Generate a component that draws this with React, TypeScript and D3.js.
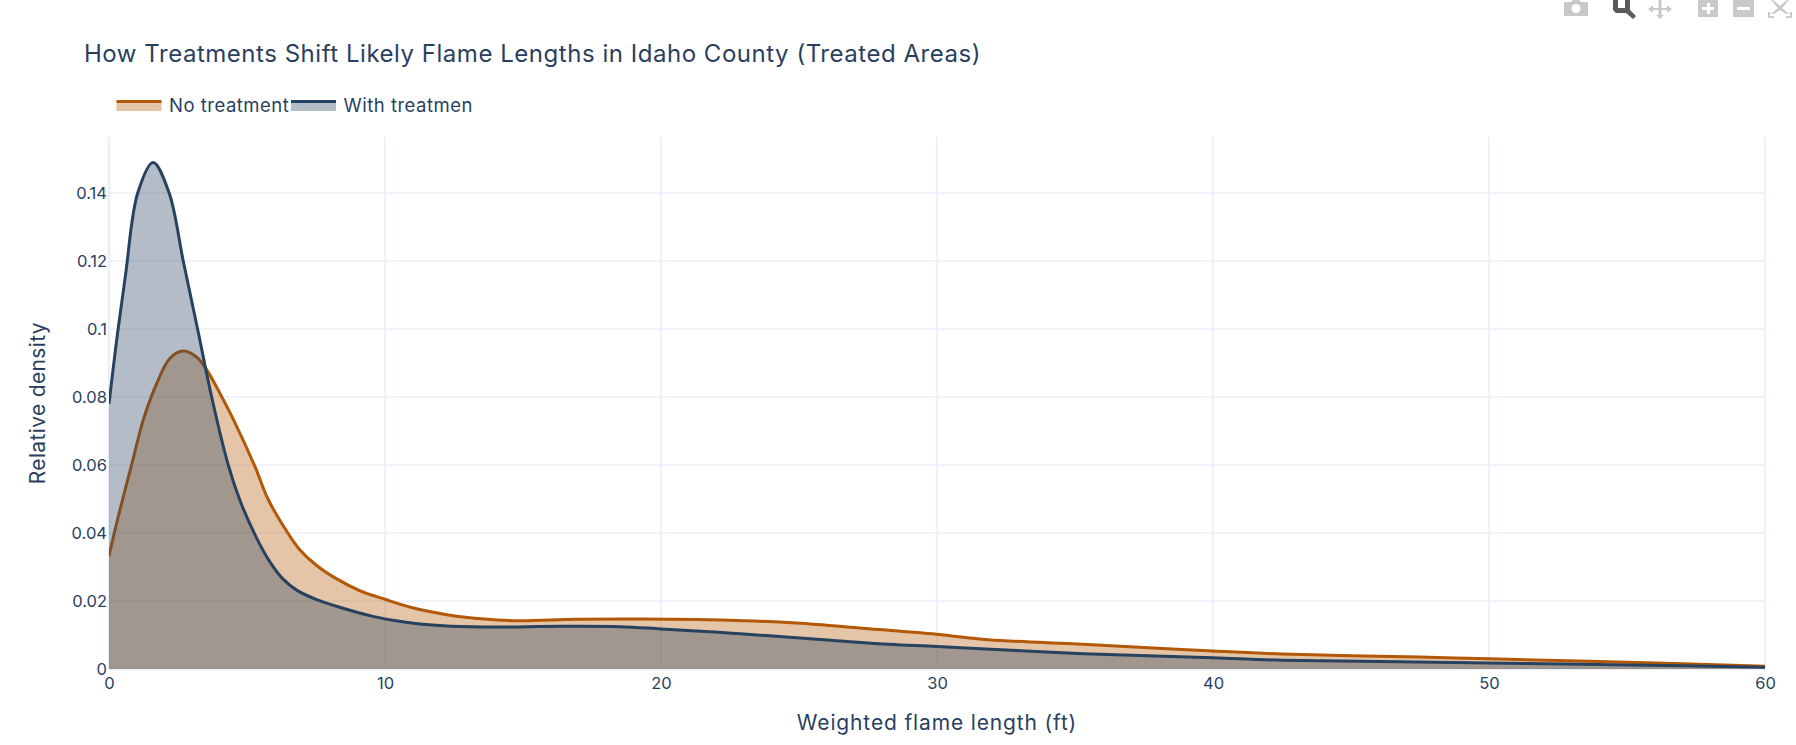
import {useEffect, useRef} from 'react';
import * as d3 from 'd3';

const noTreatmentX = [0, 0.25, 0.52, 0.88, 1.24, 1.73, 2.21, 2.69, 3.18, 3.54, 3.96, 4.5, 5.29, 5.76, 6.44, 6.92, 7.5, 8.25, 9.1, 10, 11, 12.3, 13.6, 14.85, 16.9, 19.3, 23, 24.9, 27.3, 30, 31.85, 35.3, 38, 40, 42.5, 47.5, 50, 55, 60];
const noTreatmentY = [0.0332, 0.042, 0.0507, 0.062, 0.0732, 0.084, 0.0914, 0.0935, 0.0917, 0.088, 0.082, 0.0735, 0.0595, 0.05, 0.0405, 0.035, 0.0306, 0.0265, 0.023, 0.0205, 0.018, 0.0159, 0.0147, 0.0142, 0.0146, 0.0147, 0.0142, 0.0135, 0.012, 0.0102, 0.0086, 0.0073, 0.0061, 0.0053, 0.0044, 0.0035, 0.003, 0.002, 0.0008];

const withTreatmentX = [0, 0.19, 0.33, 0.6, 1.04, 1.6, 2.18, 2.69, 3.21, 3.72, 4.32, 4.75, 5.35, 5.83, 6.3, 6.8, 7.5, 8.3, 9.6, 10.7, 12.1, 13.6, 16.4, 18.5, 20, 23, 25.9, 27.6, 30, 32.7, 35.3, 40, 42.5, 50, 55, 60];
const withTreatmentY = [0.078, 0.091, 0.1, 0.116, 0.14, 0.149, 0.14, 0.12, 0.1, 0.08, 0.06, 0.0495, 0.0385, 0.0315, 0.0265, 0.0232, 0.0205, 0.0183, 0.0154, 0.0138, 0.0127, 0.01235, 0.01255, 0.01245, 0.0118, 0.0103, 0.0086, 0.0076, 0.0066, 0.0055, 0.0045, 0.0033, 0.0026, 0.0018, 0.0012, 0.0005];

const xTicks = [0, 10, 20, 30, 40, 50, 60];
const yTicks = [0, 0.02, 0.04, 0.06, 0.08, 0.1, 0.12, 0.14];

const seriesNames = ['No treatment', 'With treatmen'];
const seriesColors = ['#b35806', '#27425f'];

const width = 1796;
const height = 745;
const margin = {left: 109, right: 31, top: 137, bottom: 76};
const textColor = '#2a3f5f';
const gridColor = '#ebf0f8';
const fontFamily = 'Inter, "Noto Sans", sans-serif';

const App = () => {
  const svgRef = useRef<SVGSVGElement | null>(null);

  useEffect(() => {
    const svg = d3.select(svgRef.current!);
    svg.selectAll('*').remove();
    svg.style('font-family', fontFamily);

    const xScale = d3
      .scaleLinear()
      .domain([0, 60])
      .range([margin.left, width - margin.right]);
    const yScale = d3
      .scaleLinear()
      .domain([0, 0.15647])
      .range([height - margin.bottom, margin.top]);

    // Grid
    const grid = svg.append('g');
    grid
      .selectAll('line.v')
      .data(xTicks)
      .enter()
      .append('line')
      .attr('x1', (d) => xScale(d))
      .attr('x2', (d) => xScale(d))
      .attr('y1', margin.top)
      .attr('y2', height - margin.bottom)
      .attr('stroke', gridColor)
      .attr('stroke-width', (d) => (d === 0 ? 2.6 : 1.8));
    grid
      .selectAll('line.h')
      .data(yTicks)
      .enter()
      .append('line')
      .attr('x1', margin.left)
      .attr('x2', width - margin.right)
      .attr('y1', (d) => yScale(d))
      .attr('y2', (d) => yScale(d))
      .attr('stroke', gridColor)
      .attr('stroke-width', (d) => (d === 0 ? 2.6 : 1.5));

    svg
      .append('clipPath')
      .attr('id', 'plot-clip')
      .append('rect')
      .attr('x', margin.left)
      .attr('y', margin.top)
      .attr('width', width - margin.left - margin.right)
      .attr('height', height - margin.top - margin.bottom);

    const curve = d3.curveCatmullRom.alpha(0.5);
    const plot = svg.append('g').attr('clip-path', 'url(#plot-clip)');
    [
      [noTreatmentX, noTreatmentY],
      [withTreatmentX, withTreatmentY],
    ].forEach(([xs, ys], s) => {
      const points = xs.map((x, i) => [xScale(x), yScale(ys[i])]);
      plot
        .append('path')
        .attr(
          'd',
          d3
            .area<number[]>()
            .x((d) => d[0])
            .y0(yScale(0))
            .y1((d) => d[1])
            .curve(curve)(points),
        )
        .attr('fill', seriesColors[s])
        .attr('fill-opacity', 0.35);
      plot
        .append('path')
        .attr(
          'd',
          d3
            .line<number[]>()
            .x((d) => d[0])
            .y((d) => d[1])
            .curve(curve)(points),
        )
        .attr('fill', 'none')
        .attr('stroke', seriesColors[s])
        .attr('stroke-width', 3);
    });

    // Axes
    const xAxis = d3
      .axisBottom(xScale)
      .tickValues(xTicks)
      .tickSize(0)
      .tickPadding(8)
      .tickFormat((d) => String(d));
    const yAxis = d3
      .axisLeft(yScale)
      .tickValues(yTicks)
      .tickSize(0)
      .tickPadding(2)
      .tickFormat((d) => String(d));
    const gx = svg
      .append('g')
      .attr('transform', `translate(0,${height - margin.bottom})`)
      .call(xAxis);
    const gy = svg.append('g').attr('transform', `translate(${margin.left},0)`).call(yAxis);
    [gx, gy].forEach((g) => {
      g.select('.domain').remove();
      g.selectAll('text')
        .attr('fill', textColor)
        .style('font-family', fontFamily)
        .style('font-size', '16.5px');
    });

    // Titles
    svg
      .append('text')
      .attr('x', 84)
      .attr('y', 62)
      .attr('fill', textColor)
      .style('font-size', '24px')
      .style('letter-spacing', '0.53px')
      .text('How Treatments Shift Likely Flame Lengths in Idaho County (Treated Areas)');
    svg
      .append('text')
      .attr('x', xScale(30))
      .attr('y', 730)
      .attr('text-anchor', 'middle')
      .attr('fill', textColor)
      .style('font-size', '21px')
      .style('letter-spacing', '0.85px')
      .text('Weighted flame length (ft)');
    svg
      .append('text')
      .attr('transform', `translate(45,${yScale(0.0782)}) rotate(-90)`)
      .attr('text-anchor', 'middle')
      .attr('fill', textColor)
      .style('font-size', '21px')
      .style('letter-spacing', '0.35px')
      .text('Relative density');

    // Legend
    const legendStarts = [116.5, 291];
    seriesNames.forEach((name, s) => {
      const g = svg.append('g').attr('transform', `translate(${legendStarts[s]},0)`);
      g.append('rect')
        .attr('x', 0)
        .attr('y', 101)
        .attr('width', 45)
        .attr('height', 10)
        .attr('fill', seriesColors[s])
        .attr('fill-opacity', 0.35);
      g.append('line')
        .attr('x1', 0)
        .attr('x2', 45)
        .attr('y1', 101.5)
        .attr('y2', 101.5)
        .attr('stroke', seriesColors[s])
        .attr('stroke-width', 3);
      g.append('text')
        .attr('x', 52.5)
        .attr('y', 111.5)
        .attr('fill', textColor)
        .style('font-size', '18.5px')
        .style('letter-spacing', '0.5px')
        .text(name);
    });

    // Modebar, cut off by the top of the page
    const icons = [
      {x: 1564, active: false, d: 'M0 2H7L9 0H15L17 2H24V16H0Z M12 4a4.5 4.5 0 1 0 .01 0Z'},
      {x: 1613, active: true, d: 'M0 0H17V10L23 16L20 19L13 13H3L0 10Z M5 0V8H12V0Z'},
      {x: 1648, active: false, d: 'M12 19L8 15H10.5V10H5V13L0 9L5 5V8H10.5V0H13.5V8H19V5L24 9L19 13V10H13.5V15H16Z'},
      {x: 1698, active: false, d: 'M0 0H20V17H0Z M9 3V7H4V10H9V14H12V10H16V7H12V3Z'},
      {x: 1733, active: false, d: 'M0 0H21V17H0Z M4 7V10H17V7Z'},
      {x: 1768, active: false, d: 'M0 12H2V16H6V18H0Z M24 12H22V16H18V18H24Z M5 0L12 6L19 0H21L14 8L21 14H18L12 10L6 14H3L10 8L3 0Z'},
    ];
    svg
      .append('g')
      .selectAll('path')
      .data(icons)
      .enter()
      .append('path')
      .attr('transform', (d) => `translate(${d.x},0)`)
      .attr('d', (d) => d.d)
      .attr('fill-rule', 'evenodd')
      .attr('fill', (d) => (d.active ? '#5a5a5a' : '#c9c9c9'));
  }, []);

  return (
    <svg
      ref={svgRef}
      width={width}
      height={height}
      style={{position: 'absolute', left: 0, top: 0, display: 'block', background: '#fff'}}
    />
  );
};

export default App;
